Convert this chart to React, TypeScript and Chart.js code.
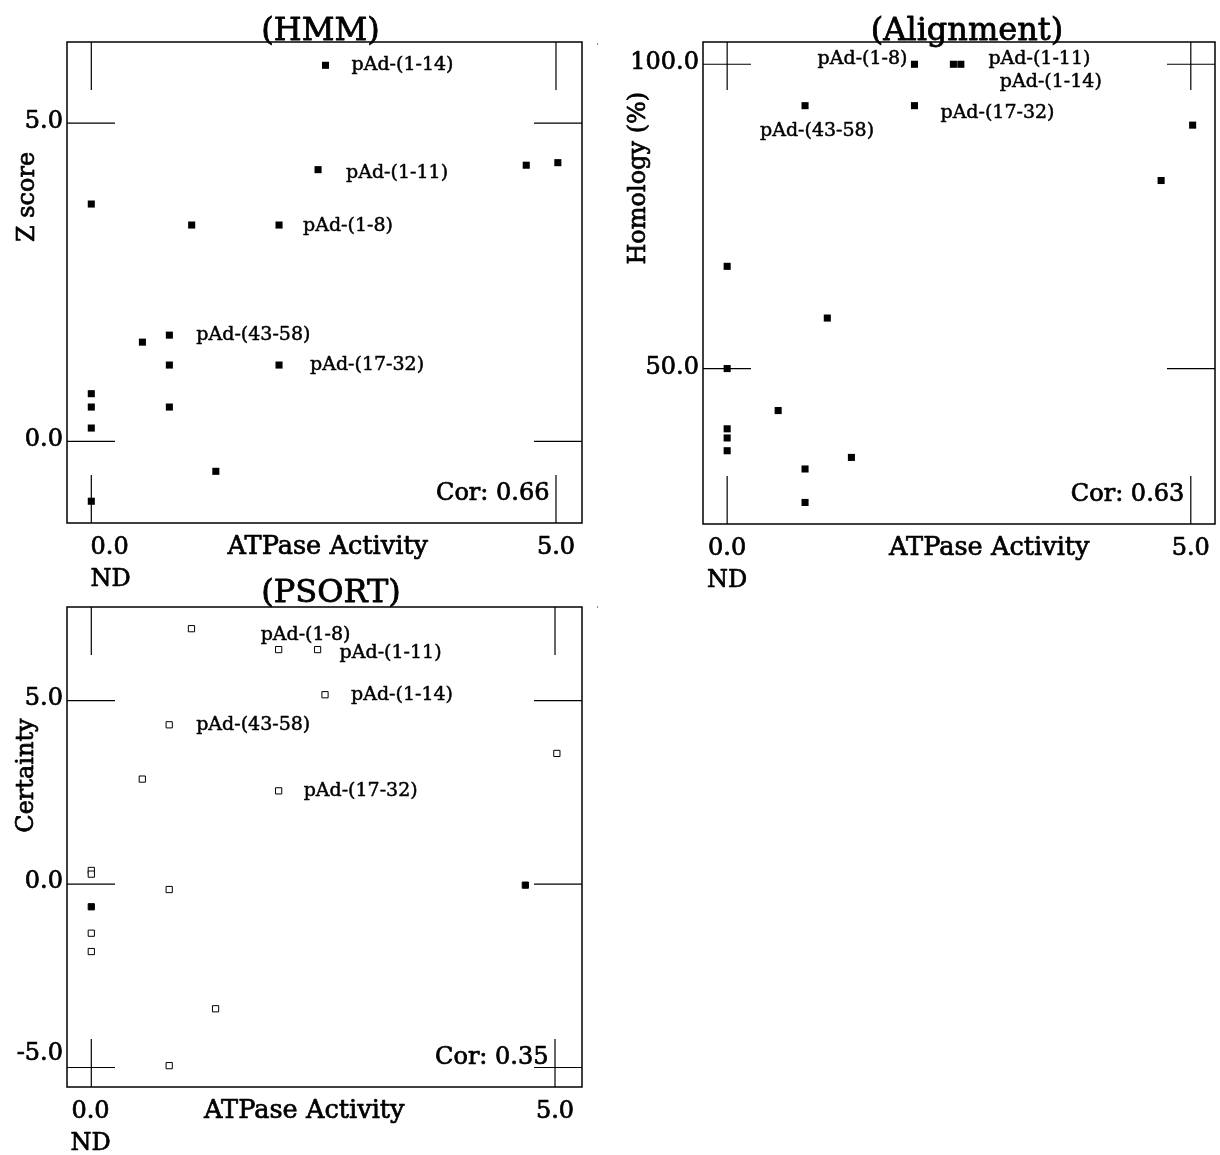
import React, { useEffect, useRef } from "react";
import { Chart, registerables } from "chart.js";

Chart.register(...registerables);

const FONT = '"DejaVu Serif", serif';

// ---- data ----
const constructs = ["pAd-(1-8)", "pAd-(1-11)", "pAd-(1-14)", "pAd-(17-32)", "pAd-(43-58)", "", "", "", "", "", "", "", "", "", "", "", ""];
const atpaseActivity = [2.02, 2.44, 2.52, 2.02, 0.84, 0, 0, 0, 0, 0, 0.55, 0.84, 0.84, 1.08, 1.34, 4.68, 5.02];
const hmmZScore = [3.4, 4.27, 5.91, 1.2, 1.67, 3.73, 0.75, 0.54, 0.21, -0.94, 1.56, 1.2, 0.54, 3.4, -0.47, 4.34, 4.38];
const alignmentHomology = [100, 100, 100, 93.2, 93.2, 66.8, 50, 40.1, 38.6, 36.5, 43.1, 33.5, 28, 58.3, 35.4, 80.9, 90];
const psortCertainty = [6.39, 6.39, 5.16, 2.54, 4.34, 0.37, 0.27, -0.62, -1.34, -1.84, 2.86, -0.15, -4.95, 6.96, -3.4, -0.03, 3.56];
const psortSolid = [false, false, false, false, false, false, false, true, false, false, false, false, false, false, false, true, false];

const xTickValues = [0, 5];
const xTickLabels = ["0.0", "5.0"];
const ndLabel = "ND";
const xAxisTitle = "ATPase Activity";

const hmmTicks = [0, 5];
const hmmTickLabels = ["0.0", "5.0"];
const alignmentTicks = [50, 100];
const alignmentTickLabels = ["50.0", "100.0"];
const psortTicks = [-5, 0, 5];
const psortTickLabels = ["-5.0", "0.0", "5.0"];

const panelTitles = ["(HMM)", "(Alignment)", "(PSORT)"];
const yAxisTitles = ["Z score", "Homology (%)", "Certainty"];
const correlations = ["Cor: 0.66", "Cor: 0.63", "Cor: 0.35"];

// ---- layout / style ----
type LabelPos = { dx: number; dy: number; align: CanvasTextAlign };

interface PanelSpec {
  left: number; top: number; width: number; height: number;
  padding: { left: number; top: number; right: number; bottom: number };
  xMin: number; xMax: number; yMin: number; yMax: number;
  values: number[];
  solid: boolean[] | null;
  hollow: boolean;
  yTicks: number[]; yTickLabels: string[]; yTickDy: number[];
  title: string; titleX: number; titleY: number;
  yTitle: string; yTitleX: number; yTitleY: number;
  xTitleX: number;
  cor: string;
  zeroAlign: CanvasTextAlign; zeroShift: number;
  labelPos: Record<string, LabelPos>;
  dot: [number, number] | null;
}

const panels: PanelSpec[] = [
  {
    left: 0, top: 0, width: 600, height: 600,
    padding: { left: 67, top: 42, right: 18, bottom: 77 },
    xMin: -0.2615, xMax: 5.28, yMin: -1.282, yMax: 6.276,
    values: hmmZScore, solid: null, hollow: false,
    yTicks: hmmTicks, yTickLabels: hmmTickLabels, yTickDy: [4.3, 4.3],
    title: panelTitles[0], titleX: 320.5, titleY: 39.5,
    yTitle: yAxisTitles[0], yTitleX: 33.5, yTitleY: 242,
    xTitleX: 227.5,
    cor: correlations[0],
    zeroAlign: "left", zeroShift: -0.8,
    labelPos: {
      "pAd-(1-8)": { dx: 24, dy: 1, align: "left" },
      "pAd-(1-11)": { dx: 28, dy: 3, align: "left" },
      "pAd-(1-14)": { dx: 26, dy: 0, align: "left" },
      "pAd-(17-32)": { dx: 31, dy: 0, align: "left" },
      "pAd-(43-58)": { dx: 27, dy: 0, align: "left" },
    },
    dot: [597, 43],
  },
  {
    left: 600, top: 0, width: 620, height: 600,
    padding: { left: 103, top: 42, right: 2, bottom: 76 },
    xMin: -0.2605, xMax: 5.261, yMin: 24.46, yMax: 103.66,
    values: alignmentHomology, solid: null, hollow: false,
    yTicks: alignmentTicks, yTickLabels: alignmentTickLabels, yTickDy: [5, 4.7],
    title: panelTitles[1], titleX: 967, titleY: 40,
    yTitle: yAxisTitles[1], yTitleX: 645, yTitleY: 264.6,
    xTitleX: 889,
    cor: correlations[1],
    zeroAlign: "center", zeroShift: 0,
    labelPos: {
      "pAd-(1-8)": { dx: -7, dy: -5.6, align: "right" },
      "pAd-(1-11)": { dx: 35, dy: -5.6, align: "left" },
      "pAd-(1-14)": { dx: 39, dy: 17.4, align: "left" },
      "pAd-(17-32)": { dx: 26, dy: 7, align: "left" },
      "pAd-(43-58)": { dx: -45, dy: 25, align: "left" },
    },
    dot: null,
  },
  {
    left: 0, top: 565, width: 600, height: 590,
    padding: { left: 67, top: 42, right: 18, bottom: 68 },
    xMin: -0.262, xMax: 5.291, yMin: -5.532, yMax: 7.551,
    values: psortCertainty, solid: psortSolid, hollow: true,
    yTicks: psortTicks, yTickLabels: psortTickLabels, yTickDy: [-7.5, 4, 4.4],
    title: panelTitles[2], titleX: 331, titleY: 602.2,
    yTitle: yAxisTitles[2], yTitleX: 33.3, yTitleY: 832.7,
    xTitleX: 204,
    cor: correlations[2],
    zeroAlign: "center", zeroShift: -0.8,
    labelPos: {
      "pAd-(1-8)": { dx: -18, dy: -14.6, align: "left" },
      "pAd-(1-11)": { dx: 22, dy: 3.7, align: "left" },
      "pAd-(1-14)": { dx: 26, dy: 0, align: "left" },
      "pAd-(17-32)": { dx: 25, dy: 0, align: "left" },
      "pAd-(43-58)": { dx: 27, dy: 0, align: "left" },
    },
    dot: [597, 606],
  },
];

const TICK_LEN = 48;

function heavyText(ctx: CanvasRenderingContext2D, text: string, x: number, y: number, w: number) {
  ctx.fillText(text, x, y);
  ctx.lineWidth = w;
  ctx.strokeText(text, x, y);
}

function makePlugin(spec: PanelSpec) {
  return {
    id: "paperFrame",
    beforeDatasetsDraw(chart: any) {
      const { ctx, chartArea: a } = chart;
      const xs = chart.scales.x;
      const ys = chart.scales.y;
      ctx.save();
      ctx.strokeStyle = "#000";
      ctx.lineWidth = 1.5;
      ctx.strokeRect(a.left, a.top, a.right - a.left, a.bottom - a.top);
      ctx.lineWidth = 1.2;
      const line = (x1: number, y1: number, x2: number, y2: number) => {
        ctx.beginPath();
        ctx.moveTo(x1, y1);
        ctx.lineTo(x2, y2);
        ctx.stroke();
      };
      for (const v of xTickValues) {
        const px = xs.getPixelForValue(v);
        line(px, a.top, px, a.top + TICK_LEN);
        line(px, a.bottom - TICK_LEN, px, a.bottom);
      }
      for (const v of spec.yTicks) {
        const py = ys.getPixelForValue(v);
        line(a.left, py, a.left + TICK_LEN, py);
        line(a.right - TICK_LEN, py, a.right, py);
      }
      ctx.restore();
    },
    afterDatasetsDraw(chart: any) {
      const { ctx, chartArea: a } = chart;
      const xs = chart.scales.x;
      const ys = chart.scales.y;
      const ox = spec.left;
      const oy = spec.top;
      ctx.save();
      ctx.fillStyle = "#000";
      ctx.strokeStyle = "#000";
      ctx.lineJoin = "round";
      ctx.textBaseline = "alphabetic";
      const W = 0.7;

      // y tick labels
      ctx.font = `24px ${FONT}`;
      ctx.textAlign = "right";
      spec.yTicks.forEach((v, i) => {
        const py = ys.getPixelForValue(v);
        heavyText(ctx, spec.yTickLabels[i], a.left - 4, py + spec.yTickDy[i], W);
      });

      // x tick labels
      xTickValues.forEach((v, i) => {
        const px = xs.getPixelForValue(v);
        if (v === 0) {
          ctx.textAlign = spec.zeroAlign;
          heavyText(ctx, xTickLabels[i], px + spec.zeroShift, a.bottom + 31, W);
          heavyText(ctx, ndLabel, px + spec.zeroShift, a.bottom + 63.4, W);
        } else {
          ctx.textAlign = "center";
          heavyText(ctx, xTickLabels[i], px, a.bottom + 31, W);
        }
      });

      // correlation
      ctx.textAlign = "right";
      heavyText(ctx, spec.cor, xs.getPixelForValue(5) - 6.5, a.bottom - 23.5, W);

      // y axis title
      ctx.save();
      ctx.translate(spec.yTitleX - ox, spec.yTitleY - oy);
      ctx.rotate(-Math.PI / 2);
      ctx.textAlign = "left";
      heavyText(ctx, spec.yTitle, 0, 0, W);
      ctx.restore();

      // x axis title
      ctx.font = `25.6px ${FONT}`;
      ctx.textAlign = "left";
      heavyText(ctx, xAxisTitle, spec.xTitleX - ox, a.bottom + 31, W);

      // panel title
      ctx.font = `32px ${FONT}`;
      ctx.textAlign = "center";
      heavyText(ctx, spec.title, spec.titleX - ox, spec.titleY - oy, 0.8);

      // point labels
      ctx.font = `19px ${FONT}`;
      constructs.forEach((name, i) => {
        if (!name) return;
        const lp = spec.labelPos[name];
        if (!lp) return;
        const px = xs.getPixelForValue(atpaseActivity[i]);
        const py = ys.getPixelForValue(spec.values[i]);
        ctx.textAlign = lp.align;
        heavyText(ctx, name, px + lp.dx, py + lp.dy + 5, 0.5);
      });

      if (spec.dot) {
        ctx.fillStyle = "#888";
        ctx.fillRect(spec.dot[0] - ox, spec.dot[1] - oy, 1, 2);
      }
      ctx.restore();
    },
  };
}

function Panel({ spec }: { spec: PanelSpec }) {
  const ref = useRef<HTMLCanvasElement>(null);
  useEffect(() => {
    const canvas = ref.current;
    if (!canvas) return;
    const data = atpaseActivity.map((x, i) => ({ x, y: spec.values[i] }));
    const bg = spec.values.map((_, i) =>
      spec.hollow ? (spec.solid && spec.solid[i] ? "#000" : "#fff") : "#000"
    );
    const chart = new Chart(canvas, {
      type: "scatter",
      data: {
        datasets: [
          {
            data,
            pointStyle: "rect",
            pointRadius: spec.hollow ? 4.4 : 5,
            pointBackgroundColor: bg,
            pointBorderColor: "#000",
            pointBorderWidth: spec.hollow ? 1 : 0,
            showLine: false,
          } as any,
        ],
      },
      options: {
        animation: false,
        responsive: false,
        maintainAspectRatio: false,
        devicePixelRatio: 1,
        events: [],
        layout: { padding: spec.padding },
        plugins: {
          legend: { display: false },
          tooltip: { enabled: false },
          title: { display: false },
        },
        scales: {
          x: { type: "linear", min: spec.xMin, max: spec.xMax, display: false },
          y: { type: "linear", min: spec.yMin, max: spec.yMax, display: false },
        },
      },
      plugins: [makePlugin(spec) as any],
    });
    return () => chart.destroy();
  }, [spec]);
  return (
    <canvas
      ref={ref}
      width={spec.width}
      height={spec.height}
      style={{
        position: "absolute",
        left: spec.left,
        top: spec.top,
        width: spec.width,
        height: spec.height,
      }}
    />
  );
}

export default function App() {
  return (
    <div
      style={{
        position: "absolute",
        left: 0,
        top: 0,
        width: 1220,
        height: 1155,
        background: "#fff",
        overflow: "hidden",
      }}
    >
      {panels.map((p, i) => (
        <Panel key={i} spec={p} />
      ))}
    </div>
  );
}
